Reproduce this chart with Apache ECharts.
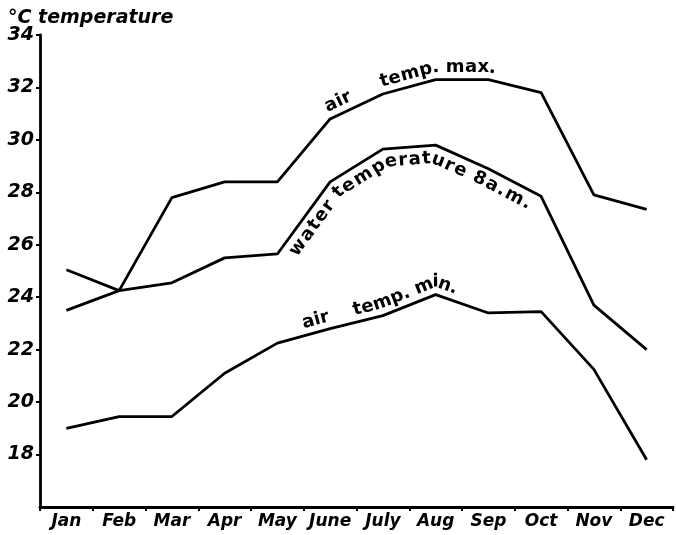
<!DOCTYPE html>
<html>
<head>
<meta charset="utf-8">
<script src="https://cdn.jsdelivr.net/npm/echarts@6/dist/echarts.min.js"></script>
<style>
html, body { margin: 0; padding: 0; background: #fff; }
#main { width: 676px; height: 535px; }
</style>
</head>
<body>
<div id="main"></div>
<script>
// data (°C, monthly)
var months = ['Jan', 'Feb', 'Mar', 'Apr', 'May', 'June', 'July', 'Aug', 'Sep', 'Oct', 'Nov', 'Dec'];
var airMax = [25.05, 24.25, 27.8, 28.4, 28.4, 30.8, 31.75, 32.3, 32.3, 31.8, 27.9, 27.35];
var water8am = [23.5, 24.25, 24.55, 25.5, 25.65, 28.4, 29.65, 29.8, 28.9, 27.85, 23.7, 22.0];
var airMin = [19.0, 19.45, 19.45, 21.1, 22.25, 22.8, 23.3, 24.1, 23.4, 23.45, 21.25, 17.8];
var yMin = 16, yMax = 34, yStep = 2;

var labelFont = 'DejaVu Sans';
var chart = echarts.init(document.getElementById('main'));

function lineSeries(name, values) {
    return {
        name: name,
        type: 'line',
        data: values,
        symbol: 'none',
        silent: true,
        lineStyle: { color: '#000', width: 2.8 }
    };
}

chart.setOption({
    animation: false,
    backgroundColor: '#fff',
    title: {
        text: '°C temperature',
        left: 3,
        top: 4,
        textStyle: { fontFamily: labelFont, fontStyle: 'italic', fontWeight: 'bold', fontSize: 19, color: '#000' }
    },
    grid: { left: 40, right: 3, top: 35, bottom: 28 },
    xAxis: {
        type: 'category',
        data: months,
        boundaryGap: true,
        axisLine: { lineStyle: { color: '#000', width: 2.8 } },
        axisTick: { show: true, length: 4, lineStyle: { color: '#000', width: 2 } },
        axisLabel: { interval: 0, color: '#000', fontFamily: labelFont, fontStyle: 'italic', fontWeight: 'bold', fontSize: 17, margin: 6 },
        splitLine: { show: false }
    },
    yAxis: {
        type: 'value',
        min: yMin,
        max: yMax,
        interval: yStep,
        axisLine: { show: true, lineStyle: { color: '#000', width: 2.8 } },
        axisTick: { show: true, length: 4, lineStyle: { color: '#000', width: 2 } },
        axisLabel: { color: '#000', fontFamily: labelFont, fontStyle: 'italic', fontWeight: 'bold', fontSize: 19, margin: 6, showMinLabel: false },
        splitLine: { show: false }
    },
    series: [
        lineSeries('air temp. max.', airMax),
        lineSeries('water temperature 8a.m.', water8am),
        lineSeries('air temp. min.', airMin)
    ]
});

// write a label letter by letter along a line drawn parallel to a series
var measureCtx = document.createElement('canvas').getContext('2d');
function curvedLabel(seriesIndex, values, startIdx, text, offset, size, spacing) {
    var pts = values.map(function (v, i) {
        return chart.convertToPixel({ seriesIndex: seriesIndex }, [i, v]);
    });
    var n = pts.length;
    var segN = [];
    for (var i = 0; i < n - 1; i++) {
        var dx = pts[i + 1][0] - pts[i][0], dy = pts[i + 1][1] - pts[i][1], l = Math.hypot(dx, dy);
        segN.push([dy / l, -dx / l]);
    }
    // offset polyline (mitred corners)
    var off = pts.map(function (p, i) {
        var a = segN[Math.max(i - 1, 0)], b = segN[Math.min(i, n - 2)];
        var mx = a[0] + b[0], my = a[1] + b[1], ml = Math.hypot(mx, my);
        mx /= ml; my /= ml;
        var k = offset / Math.max(mx * b[0] + my * b[1], 0.5);
        return [p[0] + mx * k, p[1] + my * k];
    });
    var cum = [0];
    for (i = 1; i < n; i++) {
        cum.push(cum[i - 1] + Math.hypot(off[i][0] - off[i - 1][0], off[i][1] - off[i - 1][1]));
    }
    function at(s) {
        var k = 1;
        while (k < n - 1 && cum[k] < s) k++;
        var f = (s - cum[k - 1]) / (cum[k] - cum[k - 1]);
        return [off[k - 1][0] + f * (off[k][0] - off[k - 1][0]), off[k - 1][1] + f * (off[k][1] - off[k - 1][1])];
    }
    var i0 = Math.floor(startIdx);
    var s = cum[i0] + (startIdx - i0) * (cum[i0 + 1] - cum[i0]);
    measureCtx.font = 'bold ' + size + 'px "' + labelFont + '"';
    var out = [];
    for (var c = 0; c < text.length; c++) {
        var ch = text[c];
        var w = measureCtx.measureText(ch).width * spacing;
        var mid = s + w / 2, half = Math.max(w, 12) / 2;
        var a = at(mid - half), b = at(mid + half), p = at(mid);
        if (ch !== ' ') {
            out.push({
                type: 'text',
                x: p[0],
                y: p[1],
                rotation: -Math.atan2(b[1] - a[1], b[0] - a[0]),
                silent: true,
                style: {
                    text: ch,
                    fontFamily: labelFont,
                    fontWeight: 'bold',
                    fontSize: size,
                    fill: '#000',
                    align: 'center',
                    verticalAlign: 'middle'
                }
            });
        }
        s += w;
    }
    return out;
}

var notes = []
    .concat(curvedLabel(0, airMax, 5.05, 'air     temp. max.', 12, 18, 1.03))
    .concat(curvedLabel(1, water8am, 4.15, 'water temperature 8a.m.', -13, 18, 1.13))
    .concat(curvedLabel(2, airMin, 4.55, 'air    temp. min.', 12, 18, 1.0));
chart.setOption({ graphic: notes });

window.onresize = function () { chart.resize(); };
</script>
</body>
</html>
